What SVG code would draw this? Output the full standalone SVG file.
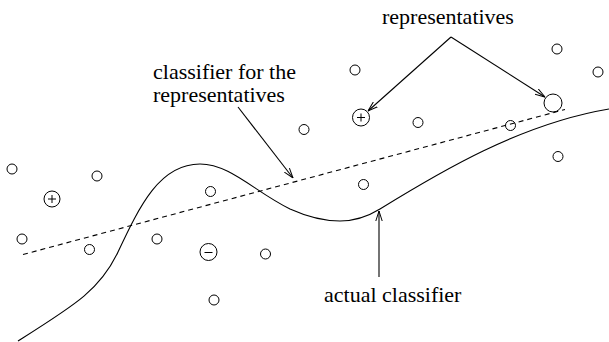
<svg xmlns="http://www.w3.org/2000/svg" width="609" height="342" viewBox="0 0 609 342">
<style>
.pt{fill:none;stroke:#000;stroke-width:1}
.ln{fill:none;stroke:#000;stroke-width:1.1}
.lbl{font-family:"Liberation Serif","Times New Roman",serif;font-size:22px;fill:#000}
.sym{fill:none;stroke:#000;stroke-width:1}
</style>
<defs>
<marker id="arr" viewBox="0 0 10 8" refX="10" refY="4" markerWidth="10" markerHeight="8" markerUnits="userSpaceOnUse" orient="auto">
<path d="M0,0.8 L10,4 L0,7.2" fill="none" stroke="#000" stroke-width="1"/>
</marker>
</defs>
<rect width="609" height="342" fill="#fff"/>
<g id="points">
<circle class="pt" cx="12" cy="169" r="5"/>
<circle class="pt" cx="97" cy="176" r="5"/>
<circle class="pt" cx="22" cy="239" r="5"/>
<circle class="pt" cx="89.5" cy="249.5" r="5"/>
<circle class="pt" cx="157" cy="239" r="5"/>
<circle class="pt" cx="210.5" cy="191.5" r="5"/>
<circle class="pt" cx="265.5" cy="254" r="5"/>
<circle class="pt" cx="214" cy="300" r="5"/>
<circle class="pt" cx="304" cy="129.5" r="5"/>
<circle class="pt" cx="355" cy="70" r="5"/>
<circle class="pt" cx="363.5" cy="184.5" r="5"/>
<circle class="pt" cx="418" cy="122.5" r="5"/>
<circle class="pt" cx="510.5" cy="125.5" r="5"/>
<circle class="pt" cx="557" cy="49" r="5"/>
<circle class="pt" cx="598" cy="72" r="5"/>
<circle class="pt" cx="558" cy="156.5" r="5"/>
</g>
<g id="plus1">
<circle class="pt" cx="52" cy="199" r="8"/>
<path class="sym" d="M48,199 H56 M52,195 V203"/>
</g>
<g id="plus2">
<circle class="pt" cx="361" cy="117.5" r="8.5"/>
<path class="sym" d="M357,117.5 H365 M361,113.5 V121.5"/>
</g>
<g id="minus">
<circle class="pt" cx="208.5" cy="252" r="8.5"/>
<path class="sym" d="M204.5,252.5 H212.5"/>
</g>
<g id="rep-big">
<circle class="pt" cx="553" cy="103" r="9"/>
</g>
<g id="connectors">
<path id="actual-classifier" class="ln" d="M18,341 C 75,305 100,290 118,252 C 140,205 160,164 200,164 C 230,164 255,192 290,209 C 310,218 325,221 340,221 C 355,221 367,217 380,209 C 440,172 520,124 609,109"/>
<path id="rep-classifier" class="ln" d="M23,254.5 L565,109.5" stroke-dasharray="5,4"/>
<path class="ln" d="M238,107 L293,178" marker-end="url(#arr)"/>
<path class="ln" d="M451,37 L368,111" marker-end="url(#arr)"/>
<path class="ln" d="M451,37 L545,97" marker-end="url(#arr)"/>
<path class="ln" d="M379,277 L379,211" marker-end="url(#arr)"/>
</g>
<g id="labels">
<text class="lbl" x="382" y="24">representatives</text>
<text class="lbl" x="153" y="79">classifier for the</text>
<text class="lbl" x="153" y="102">representatives</text>
<text class="lbl" x="324" y="302">actual classifier</text>
</g>
</svg>
